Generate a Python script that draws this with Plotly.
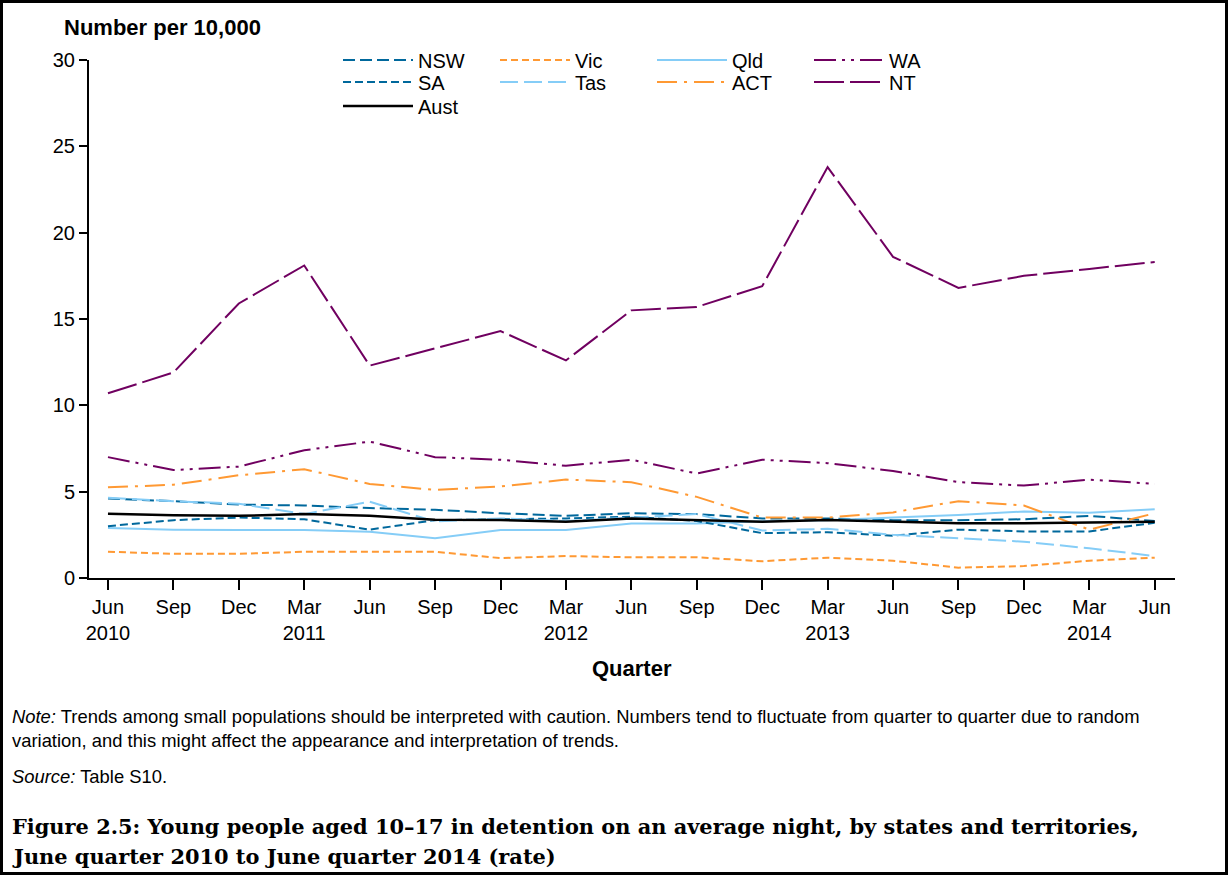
import plotly.graph_objects as go

# Quarterly detention rates (per 10,000 young people aged 10-17)
quarters = [
    "Jun 2010", "Sep 2010", "Dec 2010", "Mar 2011", "Jun 2011", "Sep 2011",
    "Dec 2011", "Mar 2012", "Jun 2012", "Sep 2012", "Dec 2012", "Mar 2013",
    "Jun 2013", "Sep 2013", "Dec 2013", "Mar 2014", "Jun 2014",
]
tick_labels = [
    "Jun<br>2010", "Sep", "Dec", "Mar<br>2011", "Jun", "Sep", "Dec",
    "Mar<br>2012", "Jun", "Sep", "Dec", "Mar<br>2013", "Jun", "Sep", "Dec",
    "Mar<br>2014", "Jun",
]

nsw = [4.60, 4.45, 4.25, 4.20, 4.05, 3.95, 3.75, 3.60, 3.75, 3.70, 3.45, 3.45, 3.35, 3.35, 3.40, 3.60, 3.30]
vic = [1.52, 1.40, 1.40, 1.52, 1.52, 1.52, 1.15, 1.27, 1.20, 1.20, 0.97, 1.18, 1.00, 0.60, 0.69, 1.00, 1.18]
qld = [2.90, 2.80, 2.78, 2.78, 2.68, 2.30, 2.78, 2.78, 3.15, 3.15, 3.28, 3.35, 3.50, 3.65, 3.85, 3.78, 3.98]
wa = [7.00, 6.25, 6.45, 7.40, 7.90, 7.00, 6.85, 6.50, 6.85, 6.05, 6.85, 6.65, 6.20, 5.55, 5.35, 5.70, 5.45]
sa = [3.00, 3.35, 3.50, 3.40, 2.80, 3.35, 3.40, 3.45, 3.55, 3.30, 2.60, 2.65, 2.45, 2.80, 2.70, 2.70, 3.20]
tas = [4.65, 4.45, 4.30, 3.70, 4.42, 3.27, 3.45, 3.30, 3.50, 3.70, 2.75, 2.85, 2.50, 2.30, 2.10, 1.72, 1.27]
act = [5.25, 5.40, 5.95, 6.30, 5.45, 5.10, 5.30, 5.70, 5.55, 4.70, 3.50, 3.50, 3.80, 4.45, 4.20, 2.80, 3.75]
nt = [10.7, 11.9, 15.9, 18.1, 12.3, 13.3, 14.3, 12.6, 15.5, 15.7, 16.9, 23.8, 18.6, 16.8, 17.5, 17.9, 18.3]
aust = [3.72, 3.63, 3.60, 3.70, 3.60, 3.38, 3.36, 3.26, 3.45, 3.36, 3.26, 3.36, 3.26, 3.17, 3.17, 3.20, 3.26]

DARK_BLUE = "#00689C"
ORANGE = "#FF9933"
LIGHT_BLUE = "#85CDF7"
PURPLE = "#700060"

FONT = "Liberation Sans, Arial, sans-serif"
SERIF = "DejaVu Serif, serif"

# (name, values, colour, dash, legend row)
series = [
    ("NSW", nsw, DARK_BLUE, "12px,5px", "legend"),
    ("Vic", vic, ORANGE, "7px,4px", "legend"),
    ("Qld", qld, LIGHT_BLUE, "solid", "legend"),
    ("WA", wa, PURPLE, "22px,6px,3px,6px,3px,6px", "legend"),
    ("SA", sa, DARK_BLUE, "8px,4px", "legend2"),
    ("Tas", tas, LIGHT_BLUE, "18px,6px", "legend2"),
    ("ACT", act, ORANGE, "20px,7px,3px,7px", "legend2"),
    ("NT", nt, PURPLE, "30px,6px", "legend2"),
    ("Aust", aust, "#000000", "solid", "legend3"),
]

fig = go.Figure()
for name, vals, color, dash, leg in series:
    fig.add_trace(go.Scatter(
        x=quarters, y=vals, name=name, mode="lines",
        line=dict(color=color, width=2.5 if name == "Aust" else 2, dash=dash),
        legend=leg,
    ))

W, H = 1228, 875
L, R, T, B = 89, 53, 60, 297
PW, PH = W - L - R, H - T - B


def px(x):
    return (x - L) / PW


def py(y):
    return (H - B - y) / PH


def text(x, y, s, size, bold=False, family=FONT, xanchor="left"):
    fig.add_annotation(
        x=px(x), y=py(y), xref="paper", yref="paper", text=s, showarrow=False,
        xanchor=xanchor, yanchor="middle", align="left",
        font=dict(family=family, size=size, color="#000000",
                  weight="bold" if bold else "normal"),
    )


text(62, 28, "Number per 10,000", 22, bold=True)
text(632, 668, "Quarter", 22, bold=True, xanchor="center")
NOTE_SIZE = 18.4
text(10, 716, "<i>Note:</i> Trends among small populations should be interpreted with caution. "
     "Numbers tend to fluctuate from quarter to quarter due to random", NOTE_SIZE)
text(10, 740, "variation, and this might affect the appearance and interpretation of trends.", NOTE_SIZE)
text(10, 776, "<i>Source:</i> Table S10.", NOTE_SIZE)
TITLE_SIZE = 20.9
text(10, 826, "Figure 2.5: Young people aged 10–17 in detention on an average night, "
     "by states and territories,", TITLE_SIZE, bold=True, family=SERIF)
text(10, 856, "June quarter 2010 to June quarter 2014 (rate)", TITLE_SIZE, bold=True, family=SERIF)

# outer frame
fig.add_shape(type="rect", xref="paper", yref="paper",
              x0=px(1.5), x1=px(1226.5), y0=py(873.5), y1=py(1.5),
              line=dict(color="#000000", width=3), fillcolor="rgba(0,0,0,0)")

legend_common = dict(
    orientation="h", xanchor="left", yanchor="middle", x=px(338),
    font=dict(family=FONT, size=20, color="#000000"),
    itemwidth=70, entrywidth=72, entrywidthmode="pixels",
    bgcolor="rgba(0,0,0,0)", borderwidth=0, tracegroupgap=0,
    traceorder="normal",
)

fig.update_layout(
    width=W, height=H,
    margin=dict(l=L, r=R, t=T, b=B),
    paper_bgcolor="#FFFFFF", plot_bgcolor="#FFFFFF",
    font=dict(family=FONT, size=20, color="#000000"),
    showlegend=True,
    legend=dict(legend_common, y=py(60)),
    legend2=dict(legend_common, y=py(82)),
    legend3=dict(legend_common, y=py(106)),
    xaxis=dict(
        type="category", range=[-0.29, 16.31],
        tickvals=quarters, ticktext=tick_labels,
        showline=True, linecolor="#000000", linewidth=2,
        ticks="outside", ticklen=10, tickwidth=2, tickcolor="#000000",
        showgrid=False, zeroline=False,
        tickfont=dict(family=FONT, size=20, color="#000000"),
    ),
    yaxis=dict(
        range=[0, 30], tickvals=[0, 5, 10, 15, 20, 25, 30],
        showline=True, linecolor="#000000", linewidth=2,
        ticks="outside", ticklen=8, tickwidth=2, tickcolor="#000000",
        showgrid=False, zeroline=False,
        tickfont=dict(family=FONT, size=20, color="#000000"),
    ),
)

fig.write_html("out.html")
